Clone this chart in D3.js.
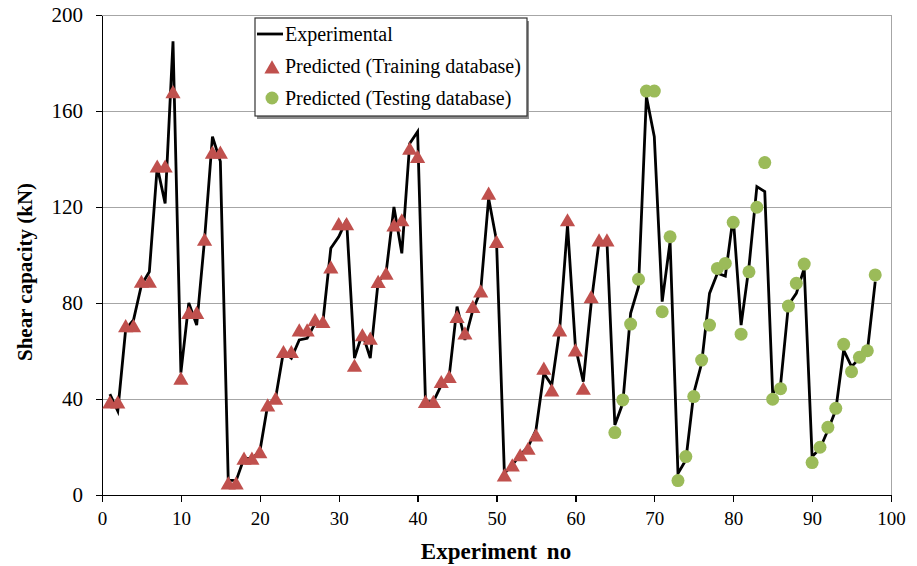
<!DOCTYPE html>
<meta charset="utf-8">
<style>
body { margin: 0; background: #fff; }
.axis path, .axis line { fill: none; stroke: #000; stroke-width: 1.3; shape-rendering: crispEdges; }
.axis text { font-family: "Liberation Serif", "Times New Roman", serif; fill: #000; }
.grid line { stroke: #a6a6a6; stroke-width: 1; shape-rendering: crispEdges; }
.title { font-family: "Liberation Serif", "Times New Roman", serif; font-weight: bold; fill: #000; }
.legend text { font-family: "Liberation Serif", "Times New Roman", serif; font-size: 20px; fill: #000; }
</style>
<svg width="917" height="566"></svg>
<script src="https://d3js.org/d3.v7.min.js"></script>
<script>

// experimental shear capacity, experiments 1..98
var experimental = [
  42, 35, 69, 73, 87.5, 93, 136.8, 121.5, 189, 51,
  80, 70.8, 106.5, 149.3, 139, 6.2, 6, 15.3, 15.3, 18,
  37.5, 40.3, 59.7, 57, 64.6, 65.3, 71.5, 72.2, 102.8, 107.6,
  114.6, 57, 67.4, 57, 88.9, 92.4, 120, 100.7, 146.5, 151.4,
  38.9, 38.9, 45.8, 49.3, 78.5, 64.6, 77, 85, 123.6, 106,
  9, 12.5, 16.7, 20, 27, 50.7, 45.8, 68.75, 112.5, 61.8,
  47.2, 79.9, 105.6, 105.6, 29.2, 38.2, 75.7, 86.8, 166, 149.3,
  80.6, 105.6, 9, 14.6, 42.4, 54.9, 84, 92.4, 91.2, 116,
  70.8, 95.1, 128.5, 126.4, 42.4, 45.8, 79.2, 84, 94.4, 16,
  19.4, 27, 35.4, 60.4, 53.5, 57, 59.7, 88.9
];

// predicted, training database (experiments 1..64)
var predTraining = [
  38.7, 38.7, 70.5, 70.5, 89, 89, 137, 137, 168, 48.6,
  76, 76, 106.5, 142.8, 142.8, 5, 5, 15.3, 15.3, 18,
  37.5, 40.3, 59.7, 59.7, 68.7, 68.7, 73, 72.2, 95, 113,
  113, 54, 66.7, 65.3, 88.9, 92.4, 112.5, 114.6, 144.4, 141,
  38.9, 38.9, 47.2, 49.3, 74.3, 67.5, 78.5, 85, 125.7, 105.6,
  8.3, 12.5, 16.7, 19.4, 25, 52.8, 43.7, 68.7, 114.6, 60.4,
  44.4, 82.6, 106.2, 106.2
];

// predicted, testing database (experiments 65..98)
var predTesting = [
  26, 39.6, 71.2, 89.9, 168.3, 168.3, 76.4, 107.6, 6, 16,
  41, 56.2, 70.8, 94.4, 96.5, 113.6, 67, 93, 119.9, 138.5,
  39.9, 44.3, 78.7, 88.2, 96.2, 13.5, 19.9, 28.2, 36.1, 62.8,
  51.4, 57.4, 60.1, 91.7
];
var testingStart = 65;

var xTicks = [0, 10, 20, 30, 40, 50, 60, 70, 80, 90, 100];
var yTicks = [0, 40, 80, 120, 160, 200];

var legendLabels = ["Experimental", "Predicted (Training database)", "Predicted (Testing database)"];

var red = "#c0504d", green = "#9bbb59";

var svg = d3.select("svg"),
    margin = {top: 15, right: 26, bottom: 71, left: 102},
    width = 917 - margin.left - margin.right,
    height = 566 - margin.top - margin.bottom;

var x = d3.scaleLinear().domain([0, 100]).range([0, width]);
var y = d3.scaleLinear().domain([0, 200]).range([height, 0]);

var g = svg.append("g")
    .attr("transform", "translate(" + margin.left + "," + margin.top + ")");

// horizontal gridlines
g.append("g").attr("class", "grid")
  .selectAll("line").data(yTicks.filter(function(d) { return d > 0; }))
  .enter().append("line")
    .attr("x1", 0).attr("x2", width)
    .attr("y1", function(d) { return y(d); })
    .attr("y2", function(d) { return y(d); });

// right border
g.append("g").attr("class", "grid").append("line")
    .attr("x1", width).attr("x2", width)
    .attr("y1", 0).attr("y2", height);

// axes
g.append("g").attr("class", "axis")
    .attr("transform", "translate(0," + height + ")")
    .call(d3.axisBottom(x).tickValues(xTicks).tickSize(7).tickPadding(10).tickSizeOuter(0))
  .selectAll("text").style("font-size", "19px");

g.append("g").attr("class", "axis")
    .call(d3.axisLeft(y).tickValues(yTicks).tickSize(6).tickPadding(13).tickSizeOuter(0))
  .selectAll("text").style("font-size", "21px");

// experimental line
var lineData = experimental.map(function(v, i) { return [i + 1, v]; });
g.append("path")
    .datum(lineData)
    .attr("fill", "none")
    .attr("stroke", "#000")
    .attr("stroke-width", 2.8)
    .attr("stroke-linejoin", "miter")
    .attr("d", d3.line()
      .x(function(d) { return x(d[0]); })
      .y(function(d) { return y(d[1]); }));

// training markers
var tri = d3.symbol().type(d3.symbolTriangle).size(100);
g.append("g").selectAll("path")
  .data(predTraining)
  .enter().append("path")
    .attr("d", tri)
    .attr("fill", red)
    .attr("transform", function(d, i) { return "translate(" + x(i + 1) + "," + (y(d) + 2) + ")"; });

// testing markers
g.append("g").selectAll("circle")
  .data(predTesting)
  .enter().append("circle")
    .attr("cx", function(d, i) { return x(i + testingStart); })
    .attr("cy", function(d) { return y(d); })
    .attr("r", 6.5)
    .attr("fill", green);

// axis titles
svg.append("text").attr("class", "title")
    .attr("transform", "translate(32,272) rotate(-90)")
    .attr("text-anchor", "middle")
    .style("font-size", "21px")
    .text("Shear capacity (kN)");

svg.append("text").attr("class", "title")
    .attr("x", 496).attr("y", 559)
    .attr("text-anchor", "middle")
    .style("font-size", "23px")
    .style("word-spacing", "4px")
    .text("Experiment no");

// legend
var legend = svg.append("g").attr("class", "legend")
    .attr("transform", "translate(255,18)");

legend.append("rect")
    .attr("x", 2).attr("y", 3)
    .attr("width", 272).attr("height", 98)
    .attr("fill", "#8c8c8c");
legend.append("rect")
    .attr("width", 272).attr("height", 98)
    .attr("fill", "#fff")
    .attr("stroke", "#333")
    .attr("stroke-width", 1.2);

legend.append("line")
    .attr("x1", 2).attr("x2", 28)
    .attr("y1", 16).attr("y2", 16)
    .attr("stroke", "#000").attr("stroke-width", 2.8);
legend.append("path")
    .attr("d", tri)
    .attr("fill", red)
    .attr("transform", "translate(17,51)");
legend.append("circle")
    .attr("cx", 17).attr("cy", 80).attr("r", 6.5)
    .attr("fill", green);

legend.selectAll("text")
  .data(legendLabels)
  .enter().append("text")
    .attr("x", 30)
    .attr("y", function(d, i) { return 23 + i * 32; })
    .text(function(d) { return d; });

</script>
